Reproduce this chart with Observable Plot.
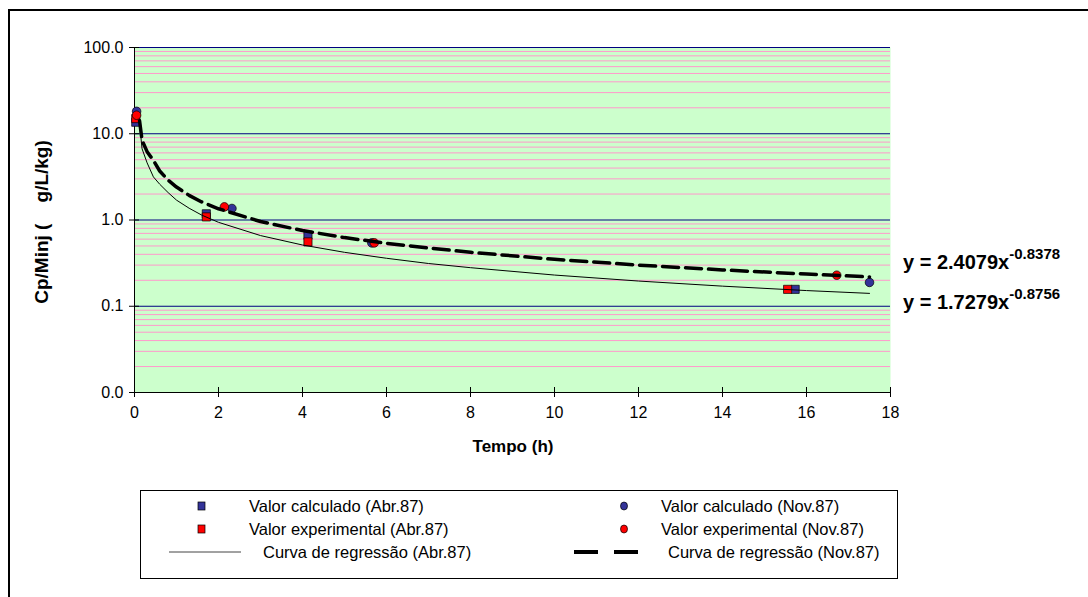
<!DOCTYPE html>
<html><head><meta charset="utf-8">
<script src="https://cdn.jsdelivr.net/npm/d3@7"></script>
<script src="https://cdn.jsdelivr.net/npm/@observablehq/plot@0.6"></script>
<style>
body{margin:0;background:#fff;font-family:Arial,"Liberation Sans",sans-serif;color:#000;}
#wrap{position:relative;width:1088px;height:597px;overflow:hidden;background:#fff;}
#border{position:absolute;left:8px;top:9px;width:1100px;height:620px;border:2px solid #000;box-sizing:border-box;}
#chart{position:absolute;left:0;top:0;}
.abs{position:absolute;white-space:pre;}
.ytitle{font-weight:bold;font-size:19px;transform:translate(-50%,-50%) rotate(-90deg);}
.xtitle{font-weight:bold;font-size:17px;transform:translate(-50%,-50%);}
.eq{font-weight:bold;font-size:20px;transform:translateY(-50%);}
.eq sup{font-size:15px;position:relative;top:-3px;}
#legend{position:absolute;left:140px;top:490px;width:758px;height:89px;border:1px solid #000;box-sizing:border-box;font-size:16.5px;}
#legend .it{position:absolute;white-space:pre;transform:translateY(-50%);}
#legend svg{position:absolute;transform:translateY(-50%);}
</style>
</head><body>
<div id="wrap">
  <div id="chart"></div>
  <div id="border"></div>
</div>
<script>
// ---- data ----
const xTicks = [0, 2, 4, 6, 8, 10, 12, 14, 16, 18];
const yTicks = [0.01, 0.1, 1, 10, 100];
const yMajorGrid = [0.1, 1, 10, 100];
const yMinorGrid = [0.02,0.03,0.04,0.05,0.06,0.07,0.08,0.09,
                    0.2,0.3,0.4,0.5,0.6,0.7,0.8,0.9,
                    2,3,4,5,6,7,8,9,
                    20,30,40,50,60,70,80,90];

const abrCalcX = [0.03, 1.71, 4.13, 15.73];
const abrCalcY = [13.6, 1.18, 0.667, 0.157];
const abrExpX  = [0.03, 1.71, 4.13, 15.55];
const abrExpY  = [15.0, 1.086, 0.557, 0.157];
const novCalcX = [0.05, 2.32, 5.65, 17.5];
const novCalcY = [18.2, 1.36, 0.543, 0.189];
const novExpX  = [0.05, 2.14, 5.71, 16.72];
const novExpY  = [16.4, 1.42, 0.543, 0.229];

const curveX    = [0.12, 0.18, 0.3, 0.45, 0.6, 0.8, 1, 1.3, 1.6, 2, 3, 4, 5, 6, 7, 8, 10, 12, 14, 16, 17.5];
const abrCurveY = [13.1, 6.7, 4.6, 3.16, 2.6, 2.08, 1.70, 1.37, 1.14, 0.94, 0.66, 0.513, 0.422, 0.36, 0.313, 0.28, 0.23, 0.196, 0.171, 0.152, 0.141];
const novCurveY = [14.2, 8.4, 6.2, 4.9, 3.7, 2.9, 2.41, 1.93, 1.62, 1.35, 0.96, 0.754, 0.625, 0.537, 0.474, 0.422, 0.35, 0.30, 0.264, 0.236, 0.219];

const seriesNames = ["Valor calculado (Abr.87)", "Valor calculado (Nov.87)",
                     "Valor experimental (Abr.87)", "Valor experimental (Nov.87)",
                     "Curva de regressão (Abr.87)", "Curva de regressão (Nov.87)"];
const equations = [["y = 2.4079x", "-0.8378"], ["y = 1.7279x", "-0.8756"]];
const xTitle = "Tempo (h)";
const yTitle = "Cp/Minj (    g/L/kg)";

// ---- build ----
const pts = (xs, ys) => xs.map((x, i) => ({x, y: ys[i]}));
const BLUE = "#333399", RED = "#FF0000";
const PH = 345, PW = 756;

const chart = Plot.plot({
  width: 1088, height: 440,
  marginLeft: 134, marginRight: 198, marginTop: 47, marginBottom: 48,
  x: {domain: [0, 18]},
  y: {type: "log", domain: [0.01, 100]},
  style: {fontFamily: "Arial, 'Liberation Sans', sans-serif", fontSize: "16px", color: "#000", background: "transparent"},
  marks: [
    Plot.frame({fill: "#CCFFCC", stroke: null}),
    Plot.ruleY(yMinorGrid, {stroke: "#FF99CC", strokeWidth: 1}),
    Plot.ruleY(yMajorGrid, {stroke: "#000080", strokeWidth: 1}),
    Plot.ruleY([0.01], {stroke: "#000", strokeWidth: 1}),
    Plot.ruleX([0], {stroke: "#000", strokeWidth: 1}),
    Plot.ruleX(xTicks, {stroke: "#000", insetTop: PH - 5}),
    Plot.ruleY(yTicks, {stroke: "#000", insetRight: PW - 5}),
    Plot.axisX({ticks: xTicks, tickSize: 5, tickPadding: 9, tickFormat: d => String(d), label: null}),
    Plot.axisY({ticks: yTicks, tickSize: 5, tickPadding: 6, tickFormat: d3.format(".1f"), label: null}),
    Plot.dot(pts(abrCalcX, abrCalcY), {x: "x", y: "y", symbol: "square", r: 4.6, fill: BLUE, stroke: "#000", strokeWidth: 0.7}),
    Plot.dot(pts(abrExpX, abrExpY), {x: "x", y: "y", symbol: "square", r: 4.6, fill: RED, stroke: "#000", strokeWidth: 0.7}),
    Plot.dot(pts(novCalcX, novCalcY), {x: "x", y: "y", symbol: "circle", r: 4.3, fill: BLUE, stroke: "#000", strokeWidth: 0.7}),
    Plot.dot(pts(novExpX, novExpY), {x: "x", y: "y", symbol: "circle", r: 4.3, fill: RED, stroke: "#000", strokeWidth: 0.7}),
    Plot.line(pts(curveX, abrCurveY), {x: "x", y: "y", stroke: "#000", strokeWidth: 1}),
    Plot.line(pts(curveX, novCurveY), {x: "x", y: "y", stroke: "#000", strokeWidth: 3.5, strokeDasharray: "16,7"})
  ]
});
const wrap = document.getElementById("wrap");
document.getElementById("chart").appendChild(chart);

function addDiv(cls, text, left, top, html) {
  const d = document.createElement("div");
  d.className = "abs " + cls;
  if (html) d.innerHTML = html; else d.textContent = text;
  d.style.left = left + "px"; d.style.top = top + "px";
  wrap.appendChild(d);
  return d;
}
addDiv("xtitle", xTitle, 513, 447);
addDiv("ytitle", yTitle, 42, 222);
addDiv("eq", null, 903, 261, equations[0][0] + "<sup>" + equations[0][1] + "</sup>");
addDiv("eq", null, 903, 301, equations[1][0] + "<sup>" + equations[1][1] + "</sup>");

// legend
const lg = document.createElement("div");
lg.id = "legend";
wrap.appendChild(lg);
const rows = [15, 38, 61];
function sym(kind, color) {
  if (kind === "square") return `<svg width="10" height="10"><rect x="1" y="1" width="7" height="8" fill="${color}" stroke="#000" stroke-width="0.7"/></svg>`;
  if (kind === "circle") return `<svg width="10" height="10"><ellipse cx="5" cy="5" rx="3.5" ry="4" fill="${color}" stroke="#000" stroke-width="0.7"/></svg>`;
  if (kind === "solid") return `<svg width="74" height="6"><line x1="0" y1="3" x2="72" y2="3" stroke="#444" stroke-width="1"/></svg>`;
  return `<svg width="66" height="6"><line x1="0" y1="3" x2="64" y2="3" stroke="#000" stroke-width="4" stroke-dasharray="24,16"/></svg>`;
}
const items = [
  {k: "square", c: BLUE, sx: 56, tx: 108, row: 0, name: seriesNames[0]},
  {k: "circle", c: BLUE, sx: 478, tx: 520, row: 0, name: seriesNames[1]},
  {k: "square", c: RED, sx: 56, tx: 108, row: 1, name: seriesNames[2]},
  {k: "circle", c: RED, sx: 478, tx: 520, row: 1, name: seriesNames[3]},
  {k: "solid", c: "#000", sx: 28, tx: 122, row: 2, name: seriesNames[4]},
  {k: "dash", c: "#000", sx: 433, tx: 527, row: 2, name: seriesNames[5]}
];
for (const it of items) {
  const s = document.createElement("div");
  s.innerHTML = sym(it.k, it.c);
  const svg = s.firstChild;
  svg.style.left = it.sx + "px"; svg.style.top = rows[it.row] + "px";
  lg.appendChild(svg);
  const t = document.createElement("div");
  t.className = "it"; t.textContent = it.name;
  t.style.left = it.tx + "px"; t.style.top = rows[it.row] + "px";
  lg.appendChild(t);
}
</script>
</body></html>
